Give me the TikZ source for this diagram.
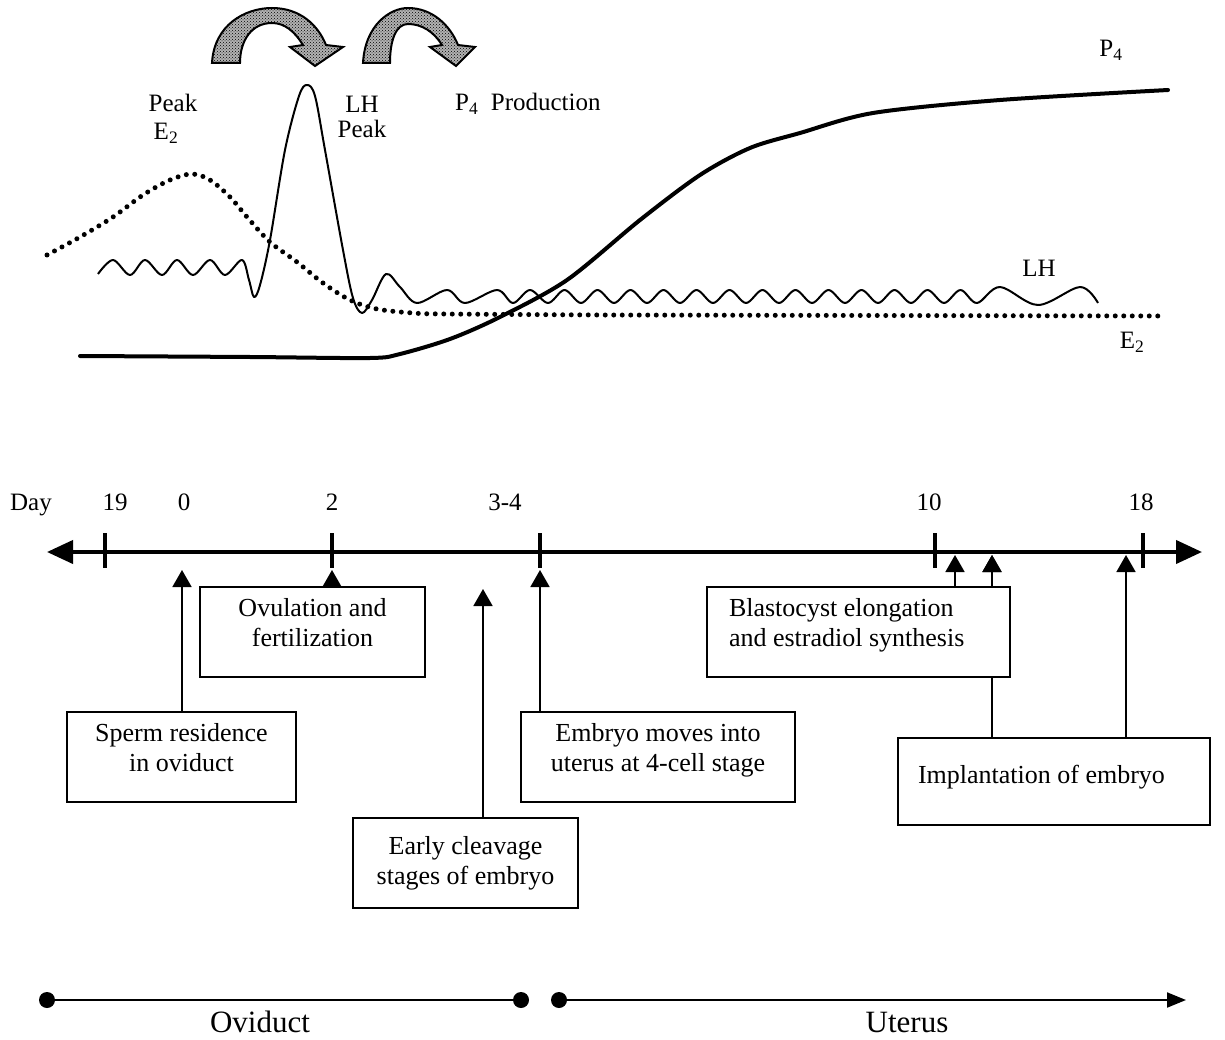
\documentclass[tikz,border=0pt]{standalone}
\usepackage{fontspec}
\setmainfont{Liberation Serif}
\usetikzlibrary{arrows.meta,patterns}
\newcommand{\lowstrut}{\rule[-20pt]{0pt}{1pt}}
\newcommand{\midstrut}{\rule[-14pt]{0pt}{1pt}}
\begin{document}
\begin{tikzpicture}[x=1pt,y=-1pt,
  txt/.style={font=\fontsize{25}{30}\selectfont, inner sep=0pt},
  daytxt/.style={font=\fontsize{25}{30}\selectfont, inner sep=0pt, anchor=base},
  bigtxt/.style={font=\fontsize{31}{36}\selectfont, inner sep=0pt},
  box/.style={draw=black, line width=1.8pt, fill=white, align=center,
     font=\fontsize{26}{30}\selectfont, minimum height=90pt},
  uparr/.style={line width=1.8pt, -{Triangle[length=17pt,width=19pt]}},
  axisline/.style={line width=4pt, {Triangle[length=26pt,width=23pt]}-{Triangle[length=26pt,width=23pt]}},
  tickline/.style={line width=3.5pt},
  e2line/.style={line width=5pt, line cap=round, dash pattern=on 0pt off 8.5pt},
  p4line/.style={line width=4pt, line cap=round},
  lhline/.style={line width=2pt, line join=round},
  bentarrow/.style={draw=black, line width=2pt, preaction={fill=black!30}, pattern=crosshatch dots, line join=miter},
  dotnode/.style={circle, fill=black, inner sep=0pt, minimum size=16pt},
  thinline/.style={line width=2pt}
]
\useasboundingbox (0,0) rectangle (1225,1040);

% ---------- bent arrows ----------
\path[bentarrow] (212,63) .. controls (214,25) and (245,8) .. (272,8)
   .. controls (300,8) and (318,25) .. (326,45) -- (343,47) -- (315,66) -- (290,47) -- (303,45)
   .. controls (295,32) and (285,23) .. (272,23)
   .. controls (252,23) and (240,40) .. (240,63) -- cycle;
\path[bentarrow] (363,63) .. controls (365,25) and (390,8) .. (408,8)
   .. controls (432,8) and (450,25) .. (458,45) -- (475,47) -- (456,66) -- (430,47) -- (442,45)
   .. controls (434,32) and (422,24) .. (408,24)
   .. controls (396,24) and (390,40) .. (390,63) -- cycle;

% ---------- labels (top) ----------
\node[txt] (peak1) at (173,103) {Peak};
\node[txt] (peakE) at (166,133) {E\textsubscript{2}};
\node[txt] (lh1) at (362,104) {LH};
\node[txt] (lhpeak) at (362,129) {Peak};
\node[txt, anchor=west] (p4prod) at (455,104) {P\textsubscript{4}\ \ Production};
\node[txt] (p4lab) at (1111,50) {P\textsubscript{4}};
\node[txt] (lhlab) at (1039,268) {LH};
\node[txt] (e2lab) at (1132,342) {E\textsubscript{2}};

% ---------- curves ----------
\draw[e2line] plot[smooth, tension=0.55] coordinates {(47,255) (80,237) (113,217) (143,195) (170,180) (192,174) (210,180) (230,197) (247,217) (270,242) (297,262) (323,283) (350,300) (377,309) (413,313) (447,314) (600,315)} -- (1160,316);

\draw[p4line] plot[smooth, tension=0.5] coordinates {(80,356) (250,357) (370,358) (400,354) (450,339) (500,317) (567,280) (640,220) (700,175) (750,148) (800,133) (873,113) (1000,100) (1168,90)};

\draw[lhline] plot[smooth, tension=0.55] coordinates {(98,274) (113,260) (130,275) (145,260) (162,275) (177,260) (193,275) (210,260) (225,275) (242,260) (249,280) (254,297) (260,285) (270,240) (285,150) (299,96) (307,85) (315,96) (325,150) (343,250) (353,298) (362,313) (372,300) (386,274) (400,287) (417,303) (447,290) (465,303) (497,290) (513,303) (530,290) (548,303)
 (564.5,290) (581,303) (597.5,290) (614,303) (630.5,290) (647,303) (663.5,290) (680,303) (696.5,290) (713,303) (729.5,290) (746,303) (762.5,290) (779,303) (795.5,290) (812,303) (828.5,290) (845,303) (861.5,290) (878,303) (894.5,290) (911,303) (927.5,290) (944,303) (960.5,290) (977,303)
 (1000,287) (1038,305) (1080,287) (1098,303)};

% ---------- timeline ----------
\coordinate (axL) at (47,552);
\coordinate (axR) at (1202,552);
\draw[axisline] (axL) -- (axR);
\foreach \tx in {105,332,540,935,1143} \draw[tickline] (\tx,533) -- (\tx,568);

\node[daytxt] (day) at (31,510) {Day};
\node[daytxt] (d19) at (115,510) {19};
\node[daytxt] (d0) at (184,510) {0};
\node[daytxt] (d2) at (332,510) {2};
\node[daytxt] (d34) at (505,510) {3-4};
\node[daytxt] (d10) at (929,510) {10};
\node[daytxt] (d18) at (1141,510) {18};

% boxes
\node[box, minimum width=225pt] (ov) at (312.5,632) {Ovulation and\\fertilization\lowstrut};
\node[box, minimum width=229pt] (sperm) at (181.5,757) {Sperm residence\\in oviduct\lowstrut};
\node[box, minimum width=274pt] (emb) at (658,757) {Embryo moves into\\uterus at 4-cell stage\lowstrut};
\node[box, minimum width=225pt] (clv) at (465.5,863) {Early cleavage\\stages of embryo};
\node[box, text width=272pt, align=flush left, inner xsep=20pt, minimum height=87pt] (impl) at (1054,781.5) {Implantation of embryo\midstrut};

\coordinate (a0) at (182,570);
\coordinate (a2) at (332,570);
\coordinate (a34) at (540,570);
\coordinate (aclv) at (483,589);
\coordinate (a10a) at (955,555);
\coordinate (a10b) at (992,555);
\coordinate (a18) at (1126,555);

\draw[uparr] (sperm.north -| a0) -- (a0);
\draw[uparr] (ov.north -| a2) -- (a2);
\draw[uparr] (emb.north -| a34) -- (a34);
\draw[uparr] (clv.north -| aclv) -- (aclv);
\draw[uparr] (impl.north -| a10b) -- (a10b);
\draw[uparr] (impl.north -| a18) -- (a18);

\node[box, text width=259pt, align=flush left, inner xsep=22pt] (blast) at (858.5,632) {Blastocyst elongation\\and estradiol synthesis\lowstrut};
\draw[uparr] (blast.north -| a10a) -- (a10a);
\draw[uparr] (blast.north -| a10b) -- (a10b);

% ---------- bottom ----------
\node[dotnode] (o1) at (47,1000) {};
\node[dotnode] (o2) at (521,1000) {};
\node[dotnode] (u1) at (559,1000) {};
\coordinate (u2) at (1186,1000);
\draw[thinline] (o1) -- (o2);
\draw[thinline, -{Triangle[length=19pt,width=15pt]}] (u1) -- (u2);
\node[bigtxt] (ovid) at (260,1022) {Oviduct};
\node[bigtxt] (uter) at (907,1022) {Uterus};
\end{tikzpicture}
\end{document}
